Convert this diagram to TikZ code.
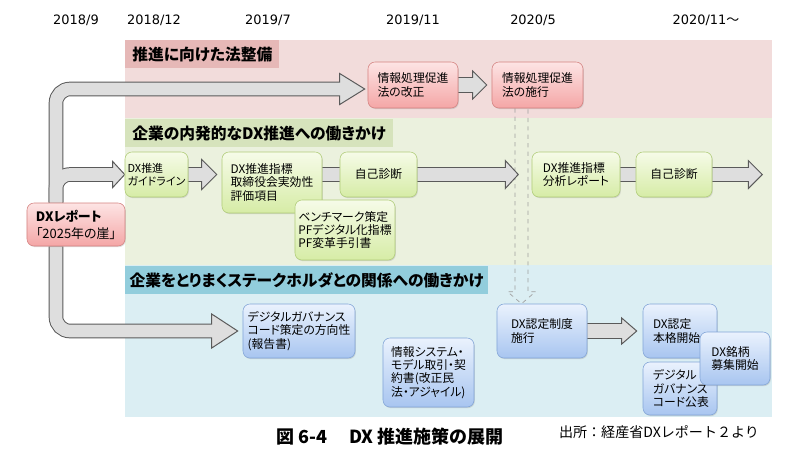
\documentclass[tikz,border=0pt]{standalone}
\usepackage{fontspec}
\usepackage{xcolor}
\usepackage{tikz}
\usetikzlibrary{positioning,calc,shadows}

\setmainfont{Noto Sans CJK JP}[RawFeature=+palt]
\newfontfamily\jp{Noto Sans CJK JP}[RawFeature=+palt]
\newfontfamily\jpfix{Noto Sans CJK JP}
\newfontfamily\datefont{DejaVu Sans}

\definecolor{bandred}{RGB}{242,220,219}
\definecolor{headred}{RGB}{230,184,183}
\definecolor{bandgreen}{RGB}{235,241,222}
\definecolor{headgreen}{RGB}{214,227,188}
\definecolor{bandblue}{RGB}{219,238,243}
\definecolor{headblue}{RGB}{146,205,220}
\definecolor{redtop}{RGB}{253,228,228}
\definecolor{redbot}{RGB}{244,166,166}
\definecolor{redline}{RGB}{212,130,128}
\definecolor{greentop}{RGB}{246,251,232}
\definecolor{greenbot}{RGB}{214,236,166}
\definecolor{greenline}{RGB}{176,204,120}
\definecolor{bluetop}{RGB}{234,242,253}
\definecolor{bluebot}{RGB}{168,197,240}
\definecolor{blueline}{RGB}{130,165,215}
\definecolor{arrowfill}{RGB}{222,222,222}
\definecolor{arrowline}{RGB}{90,90,90}

\pgfdeclarelayer{bands}
\pgfdeclarelayer{arrows}
\pgfsetlayers{bands,arrows,main}

% start, tip, head length, head half width
\newcommand{\blockarrow}[4]{%
  \coordinate (ba) at (#1);
  \coordinate (bt) at (#2);
  \draw[smallout] (ba) -- ($(bt)+(-#3,0)$);
  \filldraw[headtip] (bt) -- ++(-#3,#4) -- ++(0,-2*#4) -- cycle;
  \draw[smallin] (ba) -- ($(bt)+(-#3+2,0)$);}

\begin{document}
\begin{tikzpicture}[
    x=0.025cm, y=-0.025cm,
    date/.style={font=\datefont\fontsize{9.2}{11}\selectfont},
    header/.style={anchor=north west, minimum height=0.7cm, inner xsep=5pt, font=\jp\fontsize{11.2}{13}\selectfont\bfseries},
    box/.style={rounded corners=5pt, align=left, inner sep=2pt, font=\jp\fontsize{8.4}{9.5}\selectfont,
        drop shadow={shadow xshift=0.6pt, shadow yshift=-0.8pt, opacity=0.25}},
    redbox/.style={box, draw=redline, top color=redtop, bottom color=redbot},
    greenbox/.style={box, draw=greenline, top color=greentop, bottom color=greenbot},
    bluebox/.style={box, draw=blueline, top color=bluetop, bottom color=bluebot},
    bigout/.style={draw=arrowline, line width=10.4pt, rounded corners=10pt},
    bigin/.style={draw=arrowfill, line width=9pt, rounded corners=10pt},
    smallout/.style={draw=arrowline, line width=11.3pt},
    smallin/.style={draw=arrowfill, line width=9.9pt},
    headtip/.style={fill=arrowfill, draw=arrowline, line width=0.7pt, line join=miter},
    hollow/.style={draw=gray!75, dashed, line width=0.5pt}
]
\useasboundingbox (0,0) rectangle (800,450);

% Zeitachse
\node[date] (d1) at (76,20) {2018/9};
\node[date] (d2) at (154,20) {2018/12};
\node[date] (d3) at (268,20) {2019/7};
\node[date] (d4) at (413,20) {2019/11};
\node[date] (d5) at (533,20) {2020/5};
\node[date] (d6) at (706,20) {2020/11{\jpfix ～}};

% Bänder
\begin{pgfonlayer}{bands}
\fill[bandred] (125,40) rectangle (772,118);
\fill[bandgreen] (125,118) rectangle (772,265);
\fill[bandblue] (125,265) rectangle (772,417);
\end{pgfonlayer}

\node[header, fill=headred] (hred) at (125,40) {推進に向けた法整備};
\node[header, fill=headgreen] (hgreen) at (125,119) {企業の内発的なDX推進への働きかけ};
\node[header, fill=headblue, inner xsep=3pt] (hblue) at (125,266) {企業をとりまくステークホルダとの関係への働きかけ};

% Ausgangspunkt
\node[redbox, minimum width=2.45cm, minimum height=1.075cm, font=\jp\fontsize{9.2}{12}\selectfont] (report) at (76,224.5) {\textbf{DXレポート}\\「2025年の崖」};

% Gesetz
\node[redbox, minimum width=2.25cm, minimum height=1.15cm] (kaisei) at (413,85) {情報処理促進\\法の改正};
\node[redbox, minimum width=2.275cm, minimum height=1.15cm] (sekou) at (537.5,85) {情報処理促進\\法の施行};

% Unternehmen intern
\node[greenbox, minimum width=1.575cm, minimum height=1.125cm, inner xsep=1pt, font=\jp\fontsize{7.8}{9.5}\selectfont] (guide) at (156.5,174.5) {DX推進\\ガイドライン};
\node[greenbox, minimum width=2.5cm, minimum height=1.525cm] (shihyo) at (272,182.5) {DX推進指標\\取締役会実効性\\評価項目};
\node[greenbox, minimum width=1.925cm, minimum height=1.125cm] (jiko1) at (378.5,174.5) {自己診断};
\node[greenbox, minimum width=2.5cm, minimum height=1.5cm] (bench) at (345,230) {ベンチマーク策定\\PFデジタル化指標\\PF変革手引書};
\node[greenbox, minimum width=2.2cm, minimum height=1.125cm] (bunseki) at (576,174.5) {DX推進指標\\分析レポート};
\node[greenbox, minimum width=1.9cm, minimum height=1.125cm] (jiko2) at (674,174.5) {自己診断};

% Stakeholder
\node[bluebox, minimum width=2.8cm, minimum height=1.35cm] (dgcode) at (299,331) {デジタルガバナンス\\コード策定の方向性\\(報告書)};
\node[bluebox, minimum width=2.275cm, minimum height=1.725cm] (keiyaku) at (428.5,372.5) {情報システム・\\モデル取引・契\\約書(改正民\\法・アジャイル)};
\node[bluebox, minimum width=2.25cm, minimum height=1.35cm] (nintei) at (542,331) {DX認定制度\\施行};
\node[bluebox, minimum width=1.85cm, minimum height=1.35cm, text width=1.35cm] (honkaku) at (680,331) {DX認定\\本格開始};
\node[bluebox, minimum width=1.85cm, minimum height=1.325cm, text width=1.35cm] (koho) at (680,388.5) {デジタル\\ガバナンス\\コード公表};
\node[bluebox, minimum width=1.75cm, minimum height=1.325cm] (meigara) at (735,358.5) {DX銘柄\\募集開始};

% Unterschrift
\node[font=\jp\fontsize{12.8}{14}\selectfont\bfseries] (cap) at (390,437) {図 6-4\hspace{1.2em}DX 推進施策の展開};
\node[font=\jpfix\fontsize{10}{12}\selectfont] (src) at (659,432) {出所：経産省DXレポート２より};

% Pfeile
\begin{pgfonlayer}{arrows}
% gestrichelter Pfeil
\coordinate (dtop) at ($(sekou.south)+(-16,0)$);
\coordinate (dtip) at (dtop |- nintei.north);
\draw[hollow] ($(dtop)+(-6.5,0)$) -- ($(dtip)+(-6.5,-12)$) -- ($(dtip)+(-14,-12)$) -- (dtip)
    -- ($(dtip)+(14,-12)$) -- ($(dtip)+(6.5,-12)$) -- ($(dtop)+(6.5,0)$);

% grosse Pfeile aus der DX-Reportbox
\coordinate (spup) at ($(report.north)+(-20,0)$);
\coordinate (splow) at ($(report.south)+(-20,0)$);
\coordinate (uptip) at ($(kaisei.west)+(-3,4)$);
\coordinate (midtip) at (guide.west);
\coordinate (lowtip) at ($(dgcode.west)+(-5,0)$);
\draw[bigout] (spup) -- (spup |- uptip) -- ($(uptip)+(-25,0)$);
\draw[bigout] (spup) -- (spup |- midtip) -- ($(midtip)+(-12,0)$);
\draw[bigout] (splow) -- (splow |- lowtip) -- ($(lowtip)+(-26,0)$);
\filldraw[headtip] (uptip) -- ++(-25,15.5) -- ++(0,-31) -- cycle;
\filldraw[headtip] (midtip) -- ++(-12,13) -- ++(0,-26) -- cycle;
\filldraw[headtip] (lowtip) -- ++(-26,17) -- ++(0,-34) -- cycle;
\draw[bigin] (spup) -- (spup |- uptip) -- ($(uptip)+(-23,0)$);
\draw[bigin] (spup) -- (spup |- midtip) -- ($(midtip)+(-10,0)$);
\draw[bigin] (splow) -- (splow |- lowtip) -- ($(lowtip)+(-24,0)$);

% kleine Pfeile
\blockarrow{kaisei.east}{$(sekou.west)+(-5,0)$}{14}{14}
\blockarrow{guide.east}{$(shihyo.west |- guide.east)+(-5,0)$}{15}{15}
\draw[smallout] (shihyo.east |- jiko1) -- (jiko1);
\draw[smallin] (shihyo.east |- jiko1) -- (jiko1);
\coordinate (jend1) at ($(jiko1.east)+(101,0)$);
\blockarrow{jiko1.east}{jend1}{13}{14}
\draw[smallout] (bunseki) -- (jiko2);
\draw[smallin] (bunseki) -- (jiko2);
\coordinate (jend2) at ($(jiko2.east)+(50,0)$);
\blockarrow{jiko2.east}{jend2}{14}{14}
\blockarrow{nintei.east}{$(honkaku.west |- nintei.east)+(-6,0)$}{15}{13}
\end{pgfonlayer}

\end{tikzpicture}
\end{document}
